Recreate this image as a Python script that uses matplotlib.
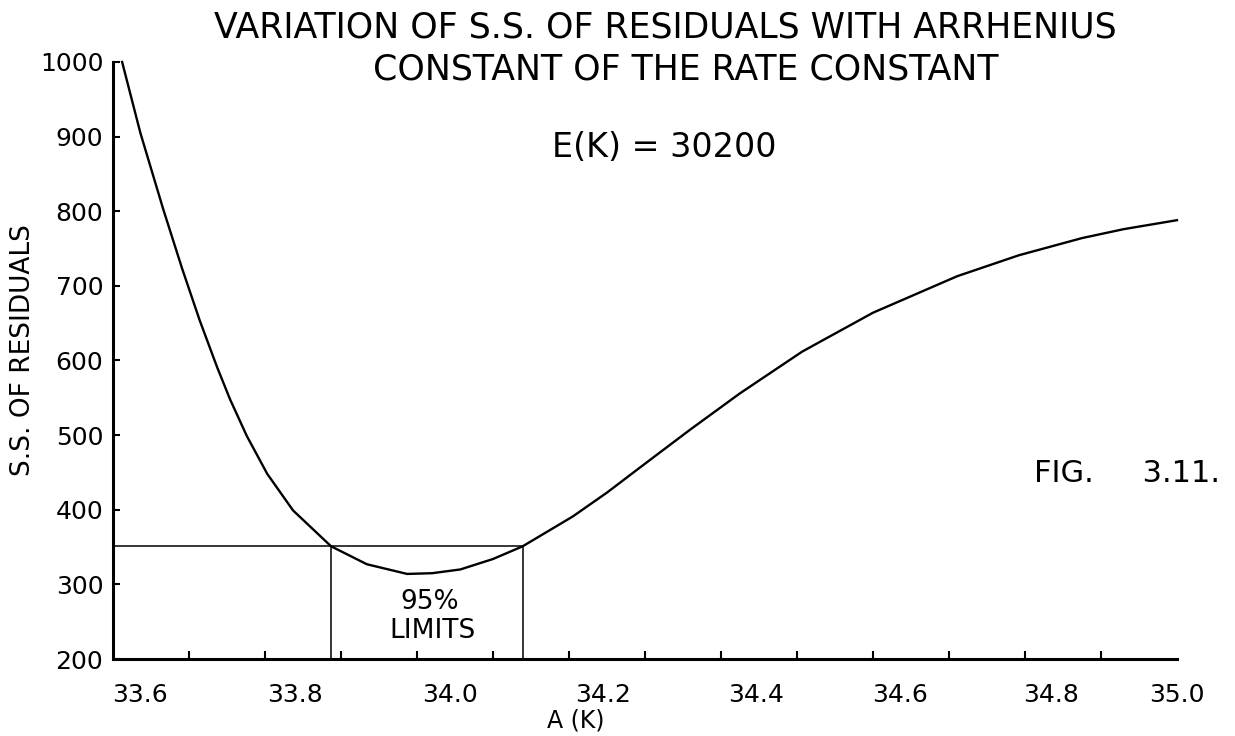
import matplotlib
matplotlib.use("Agg")
import matplotlib.pyplot as plt

# values
a_k = [33.612, 33.636, 33.666, 33.691, 33.714, 33.737, 33.754, 33.776, 33.803,
       33.837, 33.887, 33.934, 33.987, 34.020, 34.057, 34.100, 34.139, 34.205,
       34.250, 34.303, 34.359, 34.425, 34.507, 34.600, 34.711, 34.792, 34.875,
       34.930, 35.000]
ss_resid = [1000, 905, 803, 723, 654, 591, 548, 499, 448,
            399, 351, 327, 314, 315, 320, 334, 351, 391,
            423, 464, 507, 556, 612, 664, 713, 741, 764,
            776, 788]

limit_ss = 351
lower_limit = 33.887
upper_limit = 34.139

x_tick_pos = [33.636, 33.84, 34.044, 34.245, 34.446, 34.636, 34.834, 35.0]
x_tick_labels = ["33.6", "33.8", "34.0", "34.2", "34.4", "34.6", "34.8", "35.0"]
x_minor = [33.7, 33.8, 33.9, 34.0, 34.1, 34.2, 34.3, 34.4, 34.5, 34.6, 34.7,
           34.8, 34.9, 35.0]
y_ticks = [200, 300, 400, 500, 600, 700, 800, 900, 1000]

plt.rcParams['font.family'] = ['DejaVu Sans']

fig = plt.figure(figsize=(12.35, 7.36), dpi=100)
ax = fig.add_axes([0.0915, 0.1046, 0.8615, 0.8112])

ax.plot(a_k, ss_resid, color='black', lw=1.7, clip_on=False,
        solid_joinstyle='round')

# 95% limit box
ax.plot([33.6, upper_limit], [limit_ss, limit_ss], color='black', lw=1.1)
ax.plot([lower_limit, lower_limit], [200, limit_ss], color='black', lw=1.1)
ax.plot([upper_limit, upper_limit], [200, limit_ss], color='black', lw=1.1)
ax.text(34.017, 276, "95%", ha='center', va='center', fontsize=19)
ax.text(34.02, 237, "LIMITS", ha='center', va='center', fontsize=19)

ax.set_xlim(33.6, 35.0)
ax.set_ylim(200, 1000)

for side in ['top', 'right']:
    ax.spines[side].set_visible(False)
for side in ['left', 'bottom']:
    ax.spines[side].set_linewidth(2.2)

ax.set_xticks(x_tick_pos)
ax.set_xticklabels(x_tick_labels, fontsize=18)
ax.set_xticks(x_minor, minor=True)
ax.tick_params(axis='x', which='major', length=0, pad=17)
ax.tick_params(axis='x', which='minor', direction='in', length=6, width=1.5)
ax.set_yticks(y_ticks)
ax.set_yticklabels([str(v) for v in y_ticks], fontsize=18)
ax.tick_params(axis='y', direction='in', length=5, width=1.5, pad=7)

fig.text(0.539, 0.962, "VARIATION OF S.S. OF RESIDUALS WITH ARRHENIUS",
         ha='center', va='center', fontsize=25)
fig.text(0.555, 0.905, "CONSTANT OF THE RATE CONSTANT",
         ha='center', va='center', fontsize=25)
fig.text(0.538, 0.799, "E(K) = 30200", ha='center', va='center', fontsize=24)
fig.text(0.988, 0.357, "FIG.     3.11.", ha='right', va='center', fontsize=22)
fig.text(0.019, 0.524, "S.S. OF RESIDUALS", rotation=90, ha='center',
         va='center', fontsize=19)
fig.text(0.466, 0.021, "A (K)", ha='center', va='center', fontsize=17)

fig.savefig("out.png", dpi=100)
